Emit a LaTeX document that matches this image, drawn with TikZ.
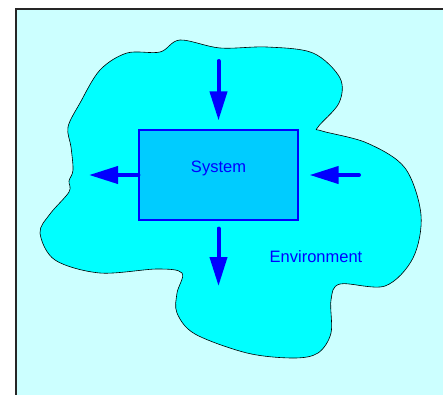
\documentclass[tikz,border=0pt]{standalone}
\usepackage{fontspec}
\setmainfont{Liberation Sans}
\usetikzlibrary{arrows.meta}
\definecolor{bgcyan}{HTML}{CCFFFF}
\definecolor{envcyan}{HTML}{00FFFF}
\definecolor{syscyan}{HTML}{00CCFF}
\definecolor{flowblue}{HTML}{0000FF}
\tikzset{
  flow/.style={draw=flowblue, line width=4pt, line cap=round,
    -{Triangle[length=29pt,width=17pt]}},
  lbl/.style={text=flowblue, font=\fontsize{16.5}{18}\selectfont, inner sep=0pt},
  sysbox/.style={draw=flowblue, fill=syscyan, line width=1.2pt,
    minimum width=159pt, minimum height=90pt, inner sep=0pt}
}
\begin{document}
\begin{tikzpicture}[x=1pt, y=-1pt]
\useasboundingbox (0,0) rectangle (443,394);
% panel
\fill[bgcyan] (16,9) rectangle (445,396);
\draw[line width=1.4pt, black!85] (16,396) -- (16,9) -- (445,9);
% environment region
\draw[fill=envcyan, line width=0.6pt]
  plot[smooth cycle, tension=0.55] coordinates {
    (160,52) (180,40) (220,48) (267,47) (313,53) (340,78) (339,103)
    (318,127) (322,131) (367,143) (405,168) (421,215) (413,258) (385,286)
    (340,284) (331,300) (331,333) (318,353) (293,358) (247,353) (195,334)
    (177,313) (177,293) (182,273) (157,269) (100,273) (55,260) (40,233)
    (50,214) (69,192) (69,181) (73,170) (71,147) (68,127) (80,103)
    (100,70) (127,53)};
% system
\node[sysbox] (sys) at (218.5,175) {};
\node[lbl] (systxt) at (218.5,168) {System};
\node[lbl] (envtxt) at (316,257) {Environment};
% flows in and out
\coordinate (topsrc) at (218.5,61);
\coordinate (rightsrc) at (359,175);
\coordinate (leftdst) at (89,175);
\coordinate (botdst) at (218.5,286);
\draw[flow, shorten >=9pt] (topsrc) -- (sys.north);
\draw[flow, shorten >=11pt] (rightsrc) -- (sys.east);
\draw[flow] (sys.west) -- (leftdst);
\draw[flow, shorten <=8pt] (sys.south) -- (botdst);
\end{tikzpicture}
\end{document}
